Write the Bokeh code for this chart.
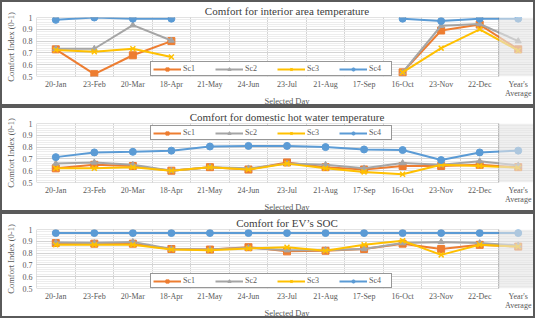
from bokeh.plotting import figure
from bokeh.layouts import column
from bokeh.models import Range1d, FixedTicker, BoxAnnotation, Legend, LegendItem
from bokeh.embed import file_html
from bokeh.resources import INLINE

nan = float("nan")

days = ["20-Jan", "23-Feb", "20-Mar", "18-Apr", "21-May", "24-Jun", "23-Jul",
        "21-Aug", "17-Sep", "16-Oct", "23-Nov", "22-Dec", "Year's\nAverage"]
scenarios = ["Sc1", "Sc2", "Sc3", "Sc4"]
y_ticks = [0.5, 0.6, 0.7, 0.8, 0.9, 1.0]

titles = ["Comfort for interior area temperature",
          "Comfort for domestic hot water temperature",
          "Comfort for EV\u2019s SOC"]

interior_sc1 = [0.73, 0.52, 0.68, 0.80, nan, nan, nan, nan, nan, 0.535, 0.89, 0.94, 0.73]
interior_sc2 = [0.735, 0.735, 0.935, 0.805, nan, nan, nan, nan, nan, 0.535, 0.93, 0.945, 0.80]
interior_sc3 = [0.725, 0.71, 0.735, 0.665, nan, nan, nan, nan, nan, 0.535, 0.74, 0.90, 0.72]
interior_sc4 = [0.98, 1.00, 0.99, 0.99, nan, nan, nan, nan, nan, 0.99, 0.97, 0.99, 0.99]

dhw_sc1 = [0.62, 0.65, 0.64, 0.60, 0.63, 0.61, 0.67, 0.63, 0.61, 0.64, 0.64, 0.65, 0.63]
dhw_sc2 = [0.66, 0.67, 0.65, 0.60, 0.63, 0.62, 0.66, 0.65, 0.62, 0.665, 0.65, 0.68, 0.645]
dhw_sc3 = [0.62, 0.62, 0.63, 0.60, 0.63, 0.61, 0.66, 0.62, 0.59, 0.57, 0.65, 0.64, 0.625]
dhw_sc4 = [0.715, 0.755, 0.76, 0.77, 0.805, 0.81, 0.81, 0.80, 0.78, 0.775, 0.69, 0.755, 0.77]

ev_sc1 = [0.885, 0.88, 0.88, 0.835, 0.83, 0.85, 0.815, 0.82, 0.835, 0.88, 0.835, 0.87, 0.855]
ev_sc2 = [0.89, 0.885, 0.895, 0.835, 0.83, 0.845, 0.825, 0.825, 0.835, 0.885, 0.895, 0.885, 0.865]
ev_sc3 = [0.87, 0.87, 0.87, 0.83, 0.825, 0.84, 0.85, 0.82, 0.87, 0.905, 0.785, 0.87, 0.855]
ev_sc4 = [0.97, 0.97, 0.97, 0.97, 0.97, 0.97, 0.97, 0.97, 0.97, 0.97, 0.97, 0.97, 0.97]

panels = [
    (titles[0], [interior_sc1, interior_sc2, interior_sc3, interior_sc4], "bottom"),
    (titles[1], [dhw_sc1, dhw_sc2, dhw_sc3, dhw_sc4], "top"),
    (titles[2], [ev_sc1, ev_sc2, ev_sc3, ev_sc4], "bottom"),
]

colors = ["#ED7D31", "#A5A5A5", "#FFC000", "#5B9BD5"]
markers = ["square", "triangle", "x", "circle"]
msizes = [7, 6, 7, 7]

FONT = "Liberation Serif"
FW, FH = 497, 55
LEFT = 32
LEG_H = 13

x_pos = [i + 0.5 for i in range(len(days))]
n = len(days)


def make_panel(title, series, legend_side):
    p = figure(frame_width=FW, frame_height=FH,
               x_range=Range1d(0, n), y_range=Range1d(0.5, 1.0),
               output_backend="svg", toolbar_location=None,
               min_border_left=LEFT, min_border_right=0, min_border_top=13,
               min_border_bottom=0)
    p.outline_line_color = None
    p.background_fill_color = "white"
    p.styles = {"border": "2px solid #5a5a5a"}

    p.title.text = title
    p.title.align = "center"
    p.title.text_font = FONT
    p.title.text_font_size = "11px"
    p.title.text_font_style = "normal"
    p.title.text_color = "#404040"
    p.title.standoff = 1
    p.title.offset = 0

    # grid
    p.xgrid.ticker = FixedTicker(ticks=list(range(1, n)))
    p.xgrid.grid_line_color = "#d4d4d4"
    p.ygrid.ticker = FixedTicker(ticks=y_ticks, minor_ticks=[0.5 + 0.02 * k for k in range(26)])
    p.ygrid.grid_line_color = "#d4d4d4"
    p.ygrid.minor_grid_line_color = "#ededed"

    # axes
    xa = p.xaxis[0]
    xa.ticker = FixedTicker(ticks=x_pos)
    xa.major_label_overrides = {x: d for x, d in zip(x_pos, days)}
    xa.axis_line_color = None
    xa.major_tick_line_color = None
    xa.minor_tick_line_color = None
    xa.major_tick_out = 0
    xa.major_tick_in = 0
    xa.major_label_text_font = FONT
    xa.major_label_text_font_size = "8px"
    xa.major_label_text_line_height = 1.0
    xa.major_label_text_color = "#595959"
    xa.major_label_standoff = 3
    xa.axis_label = "Selected Day"
    xa.axis_label_text_font = FONT
    xa.axis_label_text_font_size = "8.5px"
    xa.axis_label_text_font_style = "normal"
    xa.axis_label_text_color = "#595959"
    xa.axis_label_standoff = -5

    ya = p.yaxis[0]
    ya.ticker = FixedTicker(ticks=y_ticks)
    ya.major_label_overrides = {1.0: "1"}
    ya.axis_line_color = None
    ya.major_tick_line_color = None
    ya.minor_tick_line_color = None
    ya.major_tick_out = 0
    ya.major_tick_in = 0
    ya.major_label_text_font = FONT
    ya.major_label_text_font_size = "8px"
    ya.major_label_text_color = "#595959"
    ya.major_label_standoff = 4
    ya.axis_label = "Comfort Index (0-1)"
    ya.axis_label_text_font = FONT
    ya.axis_label_text_font_size = "8.5px"
    ya.axis_label_text_font_style = "normal"
    ya.axis_label_text_color = "#595959"
    ya.axis_label_standoff = 4

    items = []
    for name, vals, c, m, s in zip(scenarios, series, colors, markers, msizes):
        lr = p.line(x_pos, vals, line_color=c, line_width=2)
        if m == "x":
            mr = p.scatter(x_pos, vals, marker=m, size=s, line_color=c, line_width=1.5)
        else:
            mr = p.scatter(x_pos, vals, marker=m, size=s, fill_color=c, line_color=c)
        items.append(LegendItem(label=name, renderers=[lr, mr]))

    # frame outline of the daily part
    p.add_layout(BoxAnnotation(left=0, right=n - 1, bottom=0.5, top=1.0,
                               fill_alpha=0, line_color="#404040", line_width=1))
    # shaded year's average column
    p.add_layout(BoxAnnotation(left=n - 1, right=n, bottom=0.5, top=1.0,
                               fill_color="#e4e4e4", fill_alpha=0.6, line_color=None))

    ly = 0 if legend_side == "bottom" else FH - LEG_H
    legend = Legend(items=items, orientation="horizontal", location=(114, ly))
    legend.label_text_font = FONT
    legend.label_text_font_size = "8px"
    legend.label_text_color = "#595959"
    legend.glyph_width = 28
    legend.glyph_height = 8
    legend.label_height = 8
    legend.label_standoff = 2
    legend.spacing = 12
    legend.padding = 2
    legend.margin = 0
    legend.border_line_color = "#303030"
    legend.border_line_width = 1.5
    legend.background_fill_color = "white"
    legend.background_fill_alpha = 1
    p.add_layout(legend)
    return p


figs = [make_panel(t, s, side) for t, s, side in panels]
layout = column(*figs, spacing=0)

open("out.html", "w").write(file_html(layout, INLINE))
